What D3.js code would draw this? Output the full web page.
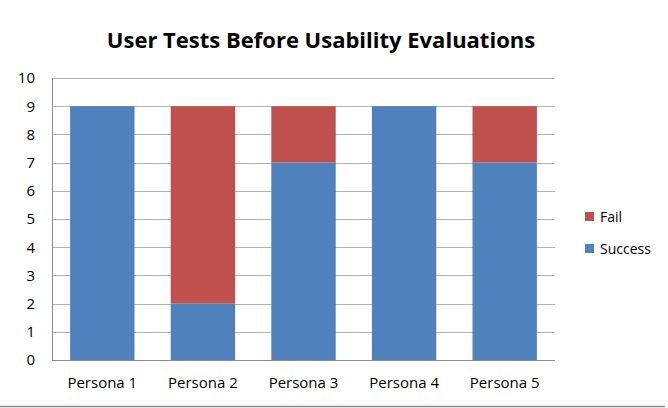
<!DOCTYPE html>
<html>
<head>
<meta charset="utf-8">
<script src="https://cdn.jsdelivr.net/npm/d3@7"></script>
<style>
  body { margin: 0; background: #fff; }
  svg { display: block; font-family: "Open Sans", "Noto Sans", sans-serif; }
</style>
</head>
<body>
<div id="chart"></div>
<script>
// values
const personas = ["Persona 1", "Persona 2", "Persona 3", "Persona 4", "Persona 5"];
const success = [9, 2, 7, 9, 7];
const fail = [0, 7, 2, 0, 2];
const seriesNames = ["Success", "Fail"];
const yTicks = [0, 1, 2, 3, 4, 5, 6, 7, 8, 9, 10];

const colors = { Success: "#4F81BD", Fail: "#C0504D" };
const fontFamily = '"Open Sans", "Noto Sans", sans-serif';

const W = 668, H = 408;
const margin = { top: 78, right: 113, bottom: 48, left: 52 };
const width = W - margin.left - margin.right;
const height = H - margin.top - margin.bottom;

const table = personas.map((p, i) => ({ persona: p, Success: success[i], Fail: fail[i] }));
const stacked = d3.stack().keys(seriesNames)(table);

const svg = d3.select("#chart").append("svg")
  .attr("width", W)
  .attr("height", H);

// title
svg.append("text")
  .attr("x", 321)
  .attr("y", 48)
  .attr("text-anchor", "middle")
  .style("font-size", "22px")
  .style("font-weight", "bold")
  .attr("fill", "#000")
  .text("User Tests Before Usability Evaluations");

// bottom border of the chart frame
svg.append("line")
  .attr("x1", 0).attr("x2", 665)
  .attr("y1", 406.5).attr("y2", 406.5)
  .attr("stroke", "#8c8c8c")
  .attr("stroke-width", 1.5);

const g = svg.append("g")
  .attr("transform", `translate(${margin.left},${margin.top})`);

const x = d3.scaleBand().domain(personas).range([0, width]).paddingInner(0.36).paddingOuter(0.18);
const y = d3.scaleLinear().domain([0, 10]).range([height, 0]);

// gridlines
g.append("g")
  .selectAll("line")
  .data(yTicks)
  .join("line")
  .attr("x1", 0).attr("x2", width)
  .attr("y1", d => Math.round(y(d)) + 0.5)
  .attr("y2", d => Math.round(y(d)) + 0.5)
  .attr("stroke", "#b3b3b3")
  .attr("stroke-width", 1);

// bars
g.selectAll(".series")
  .data(stacked)
  .join("g")
  .attr("class", "series")
  .attr("fill", d => colors[d.key])
  .selectAll("rect")
  .data(d => d)
  .join("rect")
  .attr("x", d => x(d.data.persona))
  .attr("y", d => y(d[1]))
  .attr("width", x.bandwidth())
  .attr("height", d => y(d[0]) - y(d[1]));

// y axis
const yAxis = g.append("g")
  .call(d3.axisLeft(y).tickValues(yTicks).tickSize(0).tickPadding(17))
  .attr("font-family", fontFamily);
yAxis.select(".domain").attr("stroke", "#8c8c8c").attr("d", `M0.5,0V${height}`);
yAxis.selectAll("text").style("font-size", "15px").attr("fill", "#000");

// x axis
const xAxis = g.append("g")
  .attr("transform", `translate(0,${height})`)
  .call(d3.axisBottom(x).tickSize(0).tickPadding(17))
  .attr("font-family", fontFamily);
xAxis.select(".domain").attr("stroke", "#8c8c8c").attr("d", `M0,0.5H${width}`);
xAxis.selectAll("text").style("font-size", "15px").attr("fill", "#000");

// legend
const legendItems = ["Fail", "Success"];
const legend = svg.append("g").attr("transform", "translate(585,212)");
legend.selectAll("g")
  .data(legendItems)
  .join("g")
  .attr("transform", (d, i) => `translate(0,${i * 32})`)
  .each(function (d) {
    const item = d3.select(this);
    item.append("rect").attr("width", 9).attr("height", 9).attr("fill", colors[d]);
    item.append("text")
      .attr("x", 15).attr("y", 10)
      .style("font-size", "14px")
      .attr("fill", "#000")
      .text(d);
  });
</script>
</body>
</html>
